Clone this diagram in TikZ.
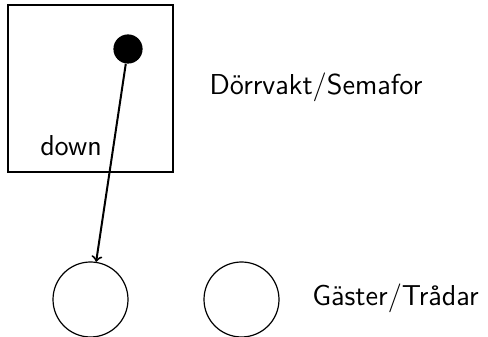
\documentclass[tikz,border=0pt]{standalone}
\usepackage{fontspec}

\begin{document}
\begin{tikzpicture}[x=0.5pt, y=0.5pt, font=\sffamily\Large,
		guest/.style={circle, draw, line width=0.6pt, minimum size=37.5pt, inner sep=0pt},
		token/.style={circle, fill=black, minimum size=14.6pt, inner sep=0pt}]
			\useasboundingbox (0,0) rectangle (488,337);
			\clip (0,0) rectangle (488,337);
			\draw[line width=0.6pt] (8,165) rectangle (173,332);
			\node (dot) [token] at (128,288) {};
			\node (g1) [guest] at (90.5,37.5) {};
			\node (g2) [guest] at (241.5,37.5) {};
			%
			\node (down) at (71,191) {down};
			\node (vakt) at (316,250) {Dörrvakt/Semafor};
			\node (gast) at (395.5,39) {Gäster/Trådar};
			\draw[line width=1pt, ->] (dot) -- (g1);
		\end{tikzpicture}
\end{document}
